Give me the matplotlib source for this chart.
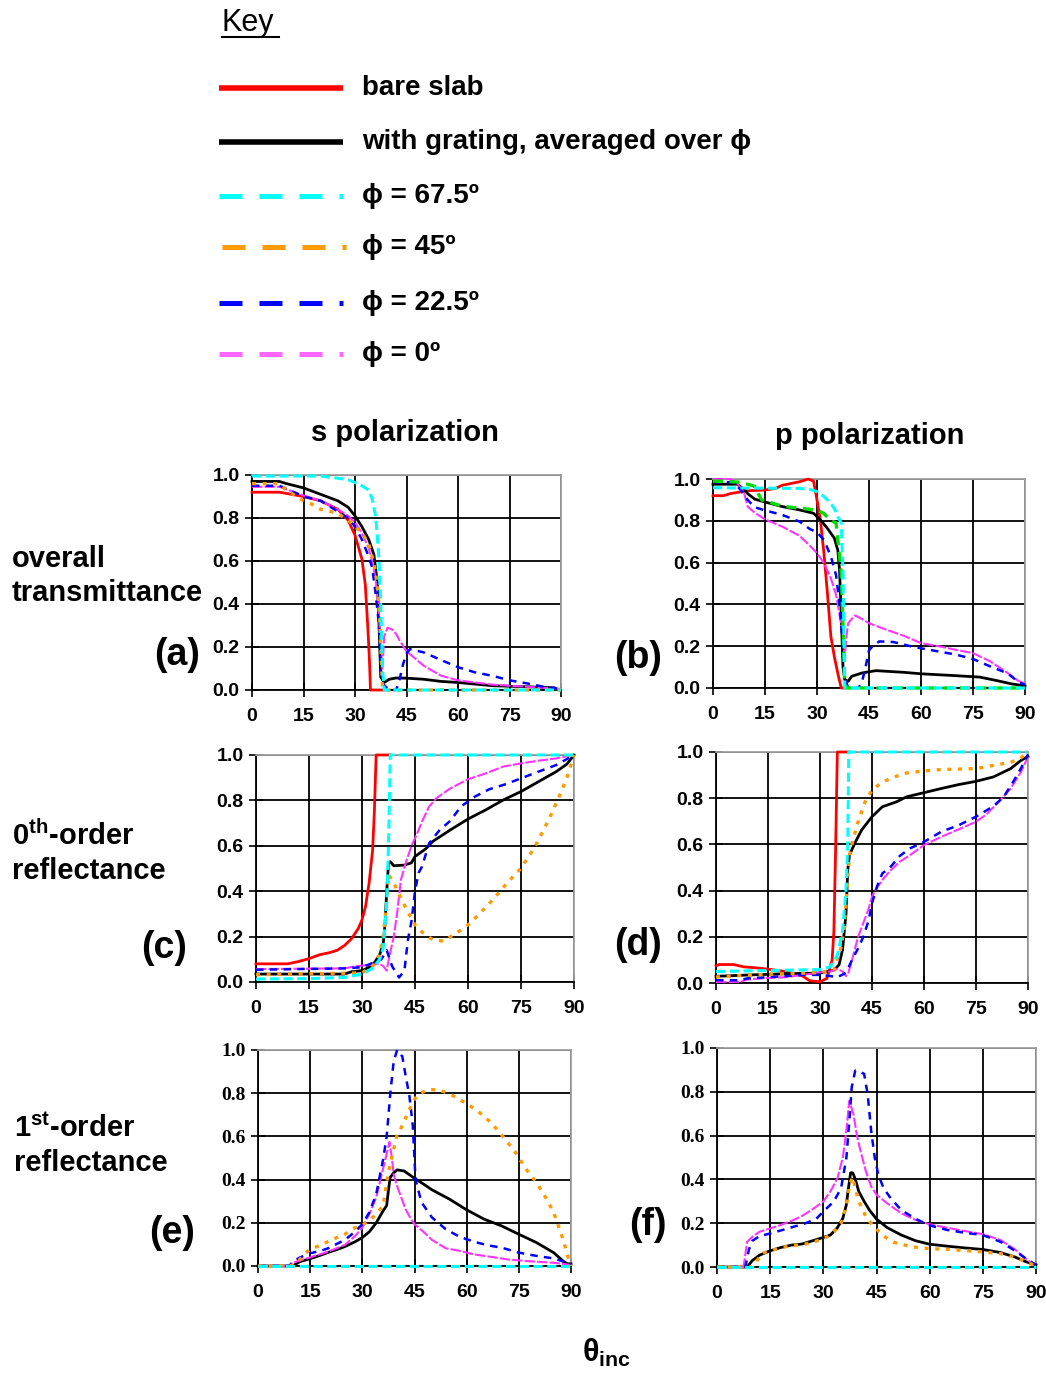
import numpy as np
import matplotlib.pyplot as plt

plt.rcParams['font.family'] = ['Liberation Sans', 'DejaVu Sans']
plt.rcParams['mathtext.fontset'] = 'custom'
plt.rcParams['mathtext.rm'] = 'Liberation Sans:bold'
plt.rcParams['mathtext.it'] = 'Liberation Sans:bold'
plt.rcParams['mathtext.bf'] = 'Liberation Sans:bold'

# ---- data: (theta_inc, value) ----
# (a) s polarization, overall transmittance
a_red = [(0, .92), (8, .92), (15, .90), (20, .88), (25, .84), (28, .79), (30, .72), (32, .61), (33, .49),
         (33.7, .30), (34, .21), (34.3, .10), (34.5, 0), (38.5, 0)]
a_black = [(0, .97), (8, .97), (10, .96), (15, .94), (20, .91), (25, .88), (28, .85), (30, .81), (32, .76),
           (34, .70), (35.5, .63), (36.5, .50), (37, .30), (37.5, .06), (38.5, .035), (40, .05), (42, .056),
           (45, .055), (50, .05), (55, .04), (60, .035), (70, .02), (80, .015), (88, .01)]
a_cyan = [(0, .995), (20, .995), (25, .985), (28, .978), (30, .965), (32, .95), (34, .93), (35, .89), (36, .81),
          (36.5, .72), (37, .60), (37.5, .40), (38, .10), (38.5, 0), (90, 0)]
a_orange = [(0, .96), (8, .96), (10, .93), (15, .88), (18, .86), (20, .84), (23, .83), (25, .82), (28, .79),
            (30, .76), (32, .73), (34, .68), (35, .62), (36, .55), (37, .40), (37.5, .20), (38, .02), (38.5, 0),
            (90, 0)]
a_blue = [(0, .95), (8, .95), (15, .90), (20, .88), (25, .83), (28, .80), (30, .76), (32, .70), (34, .62),
          (35, .57), (36, .45), (37, .30), (37.5, .10), (38, .03), (40, 0), (42, 0), (43, .05), (44, .12),
          (45, .17), (46, .19), (50, .175), (55, .14), (60, .106), (65, .082), (70, .066), (75, .045),
          (80, .031), (85, .015), (90, .005)]
a_magenta = [(0, .945), (8, .945), (15, .905), (20, .88), (25, .84), (28, .81), (30, .78), (32, .73), (34, .66),
             (35, .60), (36, .52), (37, .35), (37.5, .20), (38, .10), (38.5, .25), (39.5, .29), (41, .28),
             (42, .26), (43, .23), (45, .18), (48, .14), (50, .113), (55, .067), (60, .045), (70, .025),
             (80, .015), (90, .005)]

# (b) p polarization, overall transmittance
b_red = [(0, .92), (3, .92), (5, .93), (10, .944), (15, .947), (18, .955), (20, .97), (25, .987), (27.5, 1.0),
         (29, .99), (30, .90), (31, .80), (32, .645), (33, .454), (34, .247), (35, .15), (36, .07), (37, 0), (38, 0)]
b_black = [(0, .975), (7, .975), (9, .95), (10, .93), (12, .904), (15, .89), (20, .868), (25, .852), (29, .836),
           (31, .804), (33, .764), (35, .717), (36, .66), (36.5, .565), (37, .35), (37.5, .10), (38, .04),
           (39, .032), (40, .056), (43, .072), (47, .083), (55, .075), (60, .068), (70, .059), (77, .052),
           (82, .035), (86, .02), (90, .01)]
b_cyan = [(0, .958), (25, .955), (28, .95), (30, .94), (32, .916), (34, .884), (35.5, .844), (36, .82), (37, .79),
          (37.5, .55), (37.8, .20), (38, 0), (90, 0)]
b_green = [(0, .99), (8, .985), (10, .975), (12, .965), (14, .90), (20, .87), (25, .86), (30, .852), (32, .835),
           (34, .80), (35.5, .79), (36, .71), (37, .55), (37.5, .30), (38, .02), (38.5, 0), (90, 0)]
b_blue = [(0, .985), (6, .985), (8, .947), (10, .90), (12, .865), (15, .85), (20, .828), (25, .796), (28, .76),
          (30, .745), (32, .709), (34, .63), (35.5, .54), (36.5, .40), (37.5, .20), (38, .05), (39, 0), (42, 0),
          (43, .03), (44, .10), (45, .18), (46, .20), (48, .223), (52, .22), (57, .20), (60, .19), (65, .175),
          (70, .16), (75, .139), (80, .103), (85, .07), (88, .03), (90, .015)]
b_magenta = [(0, 1.0), (5, 1.0), (7, .98), (9, .93), (10, .868), (12, .839), (15, .807), (20, .772), (25, .728),
             (28, .68), (30, .645), (32, .597), (34, .525), (35.5, .446), (36.5, .35), (37.5, .25), (38, .15),
             (38.5, .25), (39, .31), (40, .33), (41, .347), (43, .33), (45, .31), (50, .279), (55, .25),
             (60, .215), (65, .20), (70, .183), (75, .167), (80, .127), (85, .072), (88, .035), (90, .02)]

# (c) s polarization, 0th-order reflectance
c_red = [(0, .08), (9, .08), (12, .09), (15, .103), (18, .12), (21, .13), (23, .14), (25, .16), (27, .19),
         (29, .237), (30, .274), (31, .333), (32, .435), (33, .58), (33.5, .75), (34, 1.0), (38, 1.0)]
c_black = [(0, .035), (25, .035), (27, .045), (30, .05), (32, .065), (33.5, .085), (35, .12), (36, .17),
           (36.5, .25), (37, .40), (37.5, .523), (38, .53), (39, .512), (42, .515), (44, .525), (45, .553),
           (48, .586), (50, .619), (55, .67), (60, .718), (65, .758), (70, .802), (75, .839), (80, .883),
           (85, .927), (88, .96), (90, 1.0)]
c_cyan = [(0, .013), (15, .015), (25, .02), (30, .035), (33, .06), (35, .10), (36, .15), (37, .35), (37.5, .60),
          (38, 1.0), (90, 1.0)]
c_orange = [(0, .032), (30, .04), (33, .07), (35, .12), (36, .20), (37, .35), (37.5, .472), (38.5, .45),
            (39.5, .42), (41, .37), (43, .308), (45, .252), (47, .22), (50, .186), (53, .18), (57, .218),
            (60, .252), (63, .296), (67, .362), (71, .435), (75, .501), (79, .597), (83, .72), (86, .824),
            (88, .90), (90, 1.0)]
c_blue = [(0, .054), (25, .06), (30, .065), (34, .09), (35.5, .10), (37, .14), (38.5, .07), (40.5, .02), (42, .05),
          (43, .186), (44, .267), (45, .40), (46, .48), (47, .509), (49, .611), (52, .67), (55, .71), (58, .773),
          (62, .817), (66, .849), (70, .868), (75, .897), (80, .927), (85, .956), (90, 1.0)]
c_magenta = [(0, .057), (25, .06), (28, .069), (32, .075), (35, .08), (36, .07), (37, .05), (37.7, .11), (39, .20),
             (40, .31), (41, .45), (42.5, .53), (44, .60), (45.5, .65), (47, .707), (49, .773), (51, .809),
             (55, .853), (60, .893), (65, .919), (70, .949), (75, .963), (80, .975), (85, .985), (90, 1.0)]

# (d) p polarization, 0th-order reflectance
d_red = [(0, .075), (1, .08), (5, .08), (8, .07), (12, .065), (15, .06), (20, .05), (25, .03), (27, .01),
         (30, .005), (32, .02), (33.5, .10), (34, .223), (34.5, .576), (35, 1.0), (38.3, 1.0)]
d_black = [(0, .029), (10, .035), (20, .04), (30, .043), (34, .055), (35.5, .079), (36.5, .144), (37.5, .30),
           (38, .489), (38.5, .554), (40, .604), (42, .662), (45, .72), (48, .763), (52, .784), (55, .806),
           (60, .824), (65, .842), (70, .859), (75, .873), (80, .892), (85, .928), (88, .964), (90, .98)]
d_cyan = [(0, .05), (30, .058), (33, .07), (35, .12), (36.5, .223), (37.5, .40), (38, .59), (38.3, 1.0), (90, 1.0)]
d_orange = [(0, .026), (10, .035), (20, .04), (30, .045), (34, .055), (36, .15), (37, .237), (38, .45),
            (38.5, .55), (39.5, .619), (41, .698), (43, .784), (45, .835), (48, .87), (52, .895), (55, .909),
            (60, .918), (65, .924), (70, .926), (75, .928), (80, .942), (85, .955), (88, .975), (90, 1.0)]
d_blue = [(0, .012), (7, .012), (9, .02), (15, .025), (20, .03), (25, .035), (30, .035), (33, .03), (35, .025),
          (37, .04), (38, .06), (39.5, .108), (41, .15), (42.5, .20), (44, .27), (45, .345), (46.5, .42),
          (48, .475), (50, .496), (53, .55), (56, .583), (60, .611), (65, .655), (70, .683), (75, .72),
          (80, .765), (83, .806), (86, .878), (88, .93), (90, .99)]
d_magenta = [(0, .004), (7, .005), (9, .015), (15, .022), (20, .025), (25, .035), (30, .046), (33, .05),
             (35, .06), (36.5, .05), (37.5, .03), (38, .035), (39, .086), (40, .144), (41, .20), (42.5, .26),
             (44, .32), (45, .374), (46, .403), (48, .446), (50, .482), (53, .525), (56, .554), (60, .597),
             (65, .633), (70, .665), (75, .698), (78, .73), (82, .791), (85, .842), (88, .914), (90, .98)]

# (e) s polarization, 1st-order reflectance (bare slab is zero, hidden under cyan)
e_cyan = [(0, 0), (90, 0)]
e_black = [(0, 0), (10, 0), (12, .02), (15, .034), (18, .05), (20, .062), (23, .078), (25, .09), (28, .113),
           (30, .132), (32, .158), (34, .20), (36, .256), (37, .28), (37.5, .35), (38, .41), (39, .431),
           (40, .445), (42, .44), (45, .406), (48, .375), (50, .353), (55, .31), (60, .26), (65, .217),
           (70, .186), (75, .147), (80, .109), (85, .062), (88, .019), (89, .01), (90, .01)]
e_orange = [(0, 0), (9, 0), (11, .01), (13, .05), (15, .078), (18, .096), (21, .12), (25, .147), (28, .178),
            (30, .19), (32, .21), (34, .24), (36, .28), (37.5, .434), (39, .54), (40, .605), (41.5, .65),
            (43, .705), (44.5, .76), (46, .794), (49, .817), (52, .815), (55, .798), (60, .752), (63, .72),
            (67, .664), (70, .608), (74, .527), (77, .45), (80, .388), (83, .31), (85, .248), (87, .158),
            (88.5, .08), (89.5, .02), (90, 0)]
e_blue = [(0, 0), (9, 0), (10, .02), (12, .039), (15, .059), (18, .07), (20, .081), (25, .121), (28, .16),
          (30, .194), (32, .248), (34, .333), (36, .496), (37, .60), (38, .791), (39, .946), (40, 1.0),
          (41.5, .97), (42.5, .876), (43.5, .791), (44.5, .651), (45.3, .40), (47, .295), (50, .225), (54, .17),
          (58, .135), (62, .113), (66, .096), (70, .085), (75, .062), (80, .047), (85, .035), (88, .02), (90, .005)]
e_magenta = [(0, 0), (9, 0), (10, .015), (13, .03), (15, .04), (20, .065), (25, .098), (28, .14), (30, .178),
             (32, .24), (34, .318), (35.5, .419), (37, .52), (37.8, .574), (38.5, .50), (39, .426), (40, .37),
             (41, .326), (42.5, .26), (44, .217), (45, .194), (48, .152), (50, .121), (54, .082), (58, .07),
             (62, .054), (68, .04), (72, .03), (78, .022), (85, .015), (90, .005)]

# (f) p polarization, 1st-order reflectance (bare slab is zero, hidden under cyan)
f_cyan = [(0, 0), (90, 0)]
f_black = [(0, 0), (8.5, 0), (9, .01), (10, .03), (12, .054), (15, .074), (18, .089), (21, .10), (24, .105),
           (27, .12), (30, .135), (32, .146), (34, .18), (35.5, .222), (36.5, .284), (37, .35), (37.7, .43),
           (38.3, .43), (39, .402), (40, .345), (41.5, .30), (43, .26), (45, .219), (48, .18), (52, .146),
           (56, .12), (60, .104), (65, .095), (70, .087), (75, .08), (80, .066), (84, .046), (87, .025), (90, .01)]
f_orange = [(0, 0), (10, 0), (11, .02), (12.5, .061), (15, .075), (20, .095), (25, .105), (30, .127), (33, .16),
            (35, .20), (36.5, .28), (37.5, .383), (38.3, .41), (39, .36), (40, .30), (42, .23), (44, .189),
            (47, .141), (50, .112), (55, .092), (60, .084), (65, .08), (70, .075), (75, .069), (80, .061),
            (84, .045), (87, .025), (90, .005)]
f_blue = [(0, 0), (8, 0), (9, .08), (10, .12), (12, .141), (15, .153), (20, .176), (25, .20), (28, .22),
          (30, .253), (33, .30), (35, .36), (36.5, .498), (37.5, .70), (38, .82), (39, .897), (40.5, .89),
          (41.5, .882), (42.5, .79), (43.5, .621), (44.5, .50), (45.5, .422), (47, .36), (49, .314), (52, .26),
          (56, .22), (60, .19), (65, .169), (70, .156), (75, .146), (80, .115), (84, .075), (87, .04), (90, .01)]
f_magenta = [(0, 0), (7.5, 0), (8.5, .115), (10, .138), (12, .161), (15, .176), (18, .192), (21, .21),
             (24, .233), (27, .264), (30, .299), (32, .345), (34, .406), (35.5, .50), (36.5, .621), (37.3, .759),
             (38.5, .698), (39.5, .598), (40.5, .529), (42, .437), (43.5, .368), (45, .33), (48, .291),
             (52, .245), (56, .215), (60, .195), (65, .179), (70, .164), (75, .15), (80, .123), (84, .081),
             (87, .04), (89, .015), (90, .01)]

key_labels = ['bare slab', 'with grating, averaged over \u03d5', '\u03d5 = 67.5\u00ba', '\u03d5 = 45\u00ba',
              '\u03d5 = 22.5\u00ba', '\u03d5 = 0\u00ba']
x_ticks = [0, 15, 30, 45, 60, 75, 90]
y_ticks = [0.0, 0.2, 0.4, 0.6, 0.8, 1.0]

panels = {
    'a': dict(red=a_red, black=a_black, magenta=a_magenta, blue=a_blue, orange=a_orange, cyan=a_cyan),
    'b': dict(red=b_red, black=b_black, magenta=b_magenta, blue=b_blue, green=b_green, cyan=b_cyan),
    'c': dict(red=c_red, black=c_black, magenta=c_magenta, blue=c_blue, orange=c_orange, cyan=c_cyan),
    'd': dict(red=d_red, black=d_black, magenta=d_magenta, blue=d_blue, orange=d_orange, cyan=d_cyan),
    'e': dict(black=e_black, magenta=e_magenta, blue=e_blue, orange=e_orange, cyan=e_cyan),
    'f': dict(black=f_black, magenta=f_magenta, blue=f_blue, orange=f_orange, cyan=f_cyan),
}

# line styles in the panels
styles = {
    'red': dict(color='#ff0000', lw=2.0, ls='-', zorder=3),
    'black': dict(color='black', lw=2.0, ls='-', zorder=4),
    'magenta': dict(color='#ff33ff', lw=1.5, ls=(0, (5, 1)), zorder=5),
    'blue': dict(color='#0000ff', lw=1.8, ls=(0, (3, 2.5)), zorder=6),
    'green': dict(color='#00dd00', lw=2.4, ls=(0, (3, 2)), zorder=6),
    'orange': dict(color='#ff9900', lw=2.4, ls=(0, (1.2, 2)), zorder=7),
    'cyan': dict(color='#00ffff', lw=2.2, ls=(0, (3, 1.5)), zorder=8),
}

W, H = 1046, 1374
fig = plt.figure(figsize=(W / 100, H / 100), dpi=100)

# overlay axes in pixel coordinates for key and labels
kx = fig.add_axes([0, 0, 1, 1])
kx.set_xlim(0, W)
kx.set_ylim(H, 0)
kx.axis('off')

boxes = {'a': (252, 475, 561, 690), 'b': (713, 479, 1025, 688),
         'c': (256, 755, 574, 982), 'd': (716, 752, 1028, 983),
         'e': (258, 1050, 571, 1266), 'f': (717, 1048, 1036, 1267)}

for name, (l, t, r, b) in boxes.items():
    ax = fig.add_axes([l / W, 1 - b / H, (r - l) / W, (b - t) / H])
    for key, pts in panels[name].items():
        xy = np.array(pts)
        st = styles[key]
        ax.plot(xy[:, 0], xy[:, 1], color=st['color'], lw=st['lw'], ls=st['ls'],
                zorder=st['zorder'], clip_on=False)
    ax.set_xlim(0, 90)
    ax.set_ylim(0, 1)
    ax.set_xticks(x_ticks)
    ax.set_yticks(y_ticks)
    ax.set_yticklabels(['%.1f' % v for v in y_ticks])
    ax.set_axisbelow(True)
    ax.grid(True, color='black', lw=1.3)
    ax.tick_params(direction='inout', length=10, width=1.2, labelsize=14, pad=4)
    ax.tick_params(axis='x', pad=8)
    for lab in ax.get_xticklabels() + ax.get_yticklabels():
        lab.set_fontweight('bold')
    if name in 'ef':
        for lab in ax.get_yticklabels():
            lab.set_family('Liberation Serif')
    for s in ['left', 'bottom']:
        ax.spines[s].set_color('black')
        ax.spines[s].set_linewidth(1.3)
    for s in ['top', 'right']:
        ax.spines[s].set_color('#a0a0a0')
        ax.spines[s].set_linewidth(1.3)

# key
kx.text(221, 23, 'Key', fontsize=22, ha='left', va='center')
kx.plot([222, 279], [37, 37], color='black', lw=1.5)
key_colors = ['#ff0000', 'black', '#00ffff', '#ff9900', '#0000ff', '#ff66ff']
key_rows = [88, 142, 196, 247, 303, 354]
for i, (lab, col, yy) in enumerate(zip(key_labels, key_colors, key_rows)):
    x0 = 222 if col == '#ff9900' else 219
    if i < 2:
        kx.plot([x0, x0 + 124], [yy, yy], color=col, lw=4, solid_capstyle='butt')
    else:
        kx.plot([x0, x0 + 124], [yy, yy], color=col, lw=3.6, dashes=(4.6, 3.4), dash_capstyle='butt')
    kx.text(362, yy, lab, fontsize=20, fontweight='bold', ha='left', va='center')

# column titles
kx.text(405, 433, 's polarization', fontsize=21, fontweight='bold', ha='center', va='center')
kx.text(870, 436, 'p polarization', fontsize=21, fontweight='bold', ha='center', va='center')

# row labels
row_text = [(12, 559, 'overall'), (12, 593, 'transmittance'),
            (12, 836, '0$^{\\rm th}$-order'), (12, 871, 'reflectance'),
            (14, 1128, '1$^{\\rm st}$-order'), (14, 1163, 'reflectance')]
for x, y, s in row_text:
    kx.text(x, y, s, fontsize=21, fontweight='bold', ha='left', va='center')

letters = [(200, 655, '(a)'), (662, 658, '(b)'), (187, 948, '(c)'),
           (662, 945, '(d)'), (195, 1233, '(e)'), (667, 1225, '(f)')]
for x, y, s in letters:
    kx.text(x, y, s, fontsize=27, fontweight='bold', ha='right', va='center')

kx.text(607, 1353, '\u03b8$_{\\rm inc}$', fontsize=22, fontweight='bold', ha='center', va='center')

fig.savefig('out.png', dpi=100)
